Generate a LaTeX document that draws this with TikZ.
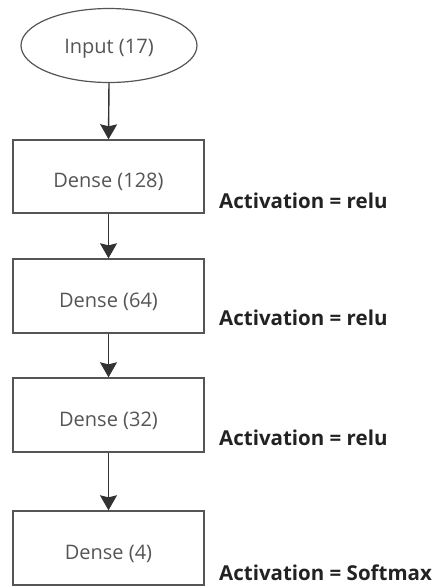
\documentclass[tikz,border=0pt]{standalone}
\usepackage{fontspec}
\setmainfont{Open Sans}
\usetikzlibrary{arrows.meta,shapes.geometric}
\definecolor{boxline}{HTML}{555555}
\definecolor{boxtext}{HTML}{555555}
\definecolor{arrowc}{HTML}{333333}
\definecolor{acttext}{HTML}{222222}
\tikzset{
  layerbox/.style={draw=boxline, line width=1.4pt, minimum width=191pt, minimum height=73pt, inner sep=0pt},
  inputshape/.style={draw=boxline, line width=1.2pt, ellipse, minimum width=176pt, minimum height=74pt, inner sep=0pt},
  boxlabel/.style={anchor=base, text=boxtext, font=\fontsize{20}{24}\selectfont, inner sep=0pt},
  actlabel/.style={anchor=base west, text=acttext, font=\fontsize{20.5}{24}\selectfont\bfseries, inner sep=0pt},
  flow/.style={draw=arrowc, line width=1.4pt, -{Stealth[length=15pt,width=17pt,inset=2pt]}}
}
\begin{document}
\begin{tikzpicture}[x=1pt,y=-1pt]
\useasboundingbox (0,0) rectangle (433,587);
\node[inputshape] (in) at (109,45.5) {};
\node[boxlabel] (inl) at (109,53) {Input (17)};
\node[layerbox] (d1) at (108.5,176.5) {};
\node[layerbox, minimum height=74pt] (d2) at (108.5,296) {};
\node[layerbox, minimum height=74pt] (d3) at (108.5,415) {};
\node[layerbox, minimum height=74pt] (d4) at (108.5,548) {};
\node[boxlabel] (l1) at (108.5,187) {Dense (128)};
\node[boxlabel] (l2) at (108.5,307) {Dense (64)};
\node[boxlabel] (l3) at (108.5,426) {Dense (32)};
\node[boxlabel] (l4) at (108.5,559) {Dense (4)};
\node[actlabel] (a1) at (219,208) {Activation = relu};
\node[actlabel] (a2) at (219,325) {Activation = relu};
\node[actlabel] (a3) at (219,445) {Activation = relu};
\node[actlabel] (a4) at (219,580) {Activation = Softmax};
\draw[flow] (in.south) -- (d1.north);
\draw[flow] (d1.south) -- (d2.north);
\draw[flow] (d2.south) -- (d3.north);
\draw[flow] (d3.south) -- (d4.north);
\end{tikzpicture}
\end{document}
